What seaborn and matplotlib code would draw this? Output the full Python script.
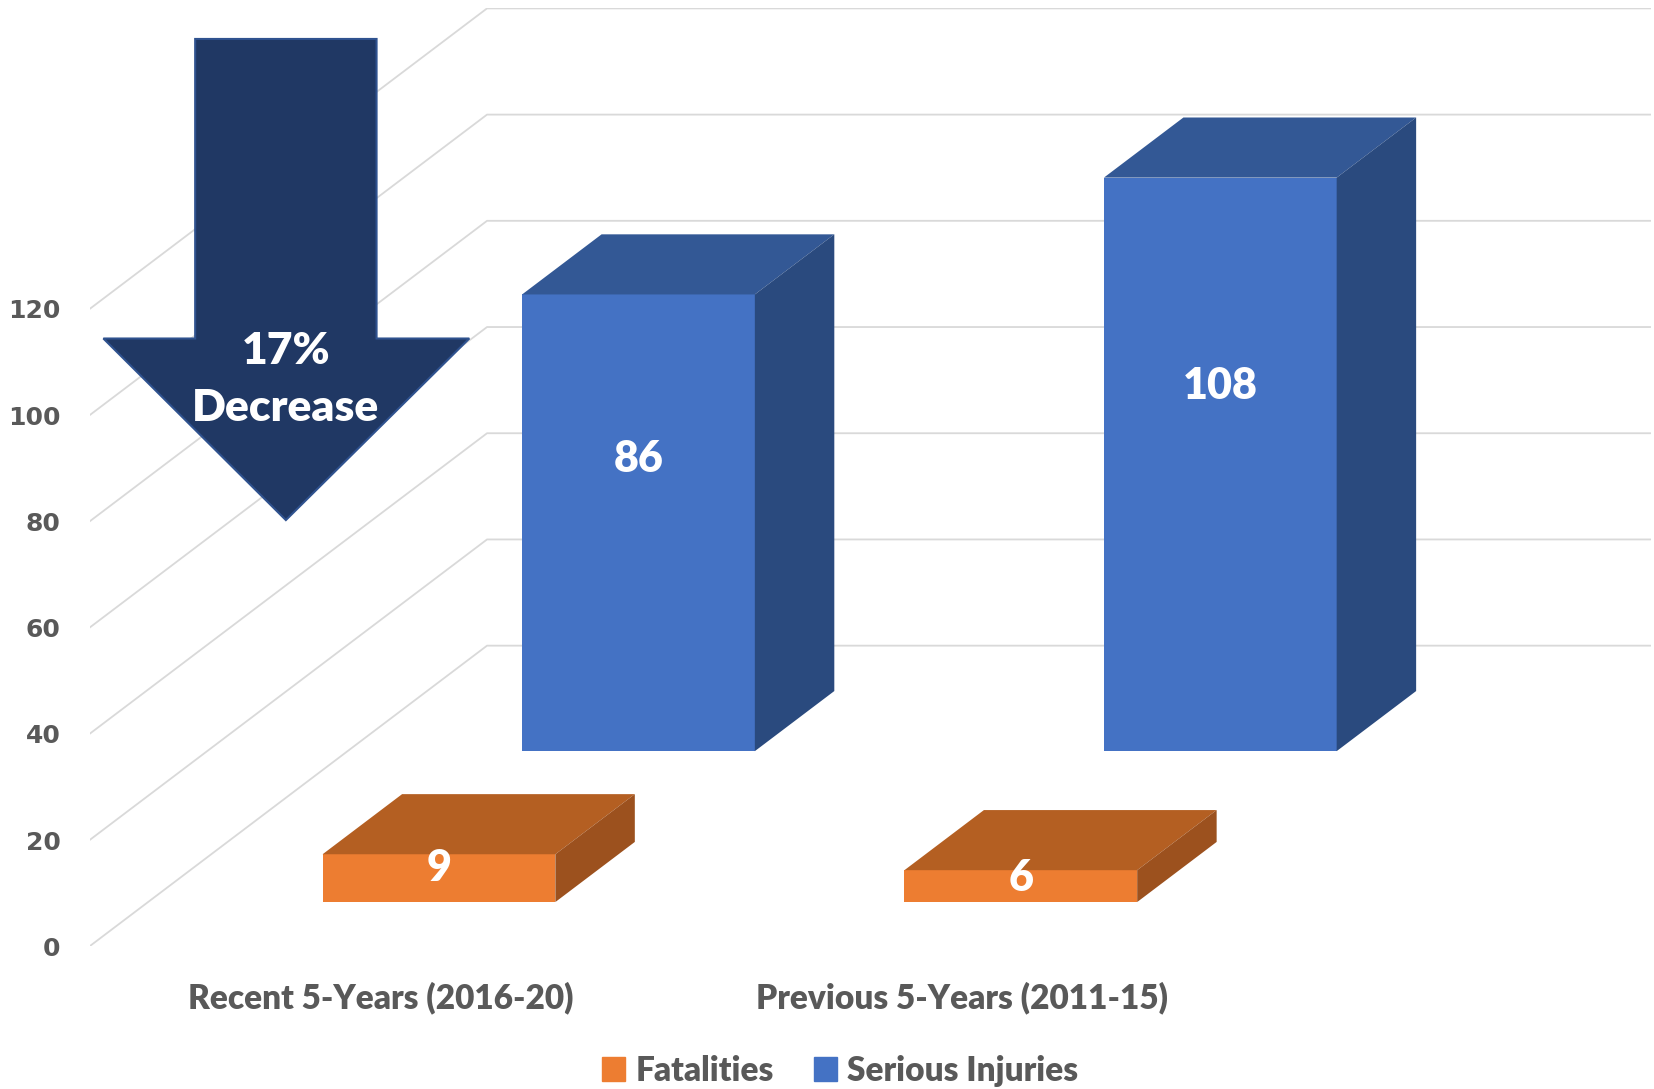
import matplotlib
matplotlib.use("Agg")
import matplotlib.pyplot as plt
from matplotlib.patches import Polygon, Patch
import pandas as pd
import seaborn as sns

# Data
periods = ["Recent 5-Years (2016-20)", "Previous 5-Years (2011-15)"]
fatalities = [9, 6]
serious_injuries = [86, 108]
y_ticks = [0, 20, 40, 60, 80, 100, 120]
arrow_lines = ["17%", "Decrease"]

# Fake 3D: oblique projection of the depth axis, in data units
DEPTH_X = 0.683
DEPTH_Y = 56.6
BAR_WIDTH = 0.4
BAR_DEPTH = 0.2
row_depth = {"Serious Injuries": 0.649, "Fatalities": 0.147}
front_colors = {"Serious Injuries": "#4472C4", "Fatalities": "#ED7D31"}
top_colors = {"Serious Injuries": "#335895", "Fatalities": "#B45F22"}
side_colors = {"Serious Injuries": "#2A4A7E", "Fatalities": "#9C511E"}
TEXT_GRAY = "#595959"
WEIGHT = "heavy"


def main():
    sns.set_theme(style="white")
    plt.rcParams["font.family"] = ["Lato", "DejaVu Sans"]

    fig = plt.figure(figsize=(16.54, 10.89), dpi=100)
    ax = fig.add_axes([0.0542, 0.1311, 0.9438, 0.8612])

    df = pd.DataFrame({"period": periods,
                       "Fatalities": fatalities,
                       "Serious Injuries": serious_injuries})

    # Gridlines: side wall diagonal, then back wall horizontal
    x_left, x_right = -0.5, 1.5 + DEPTH_X
    for v in y_ticks:
        ax.plot([x_left, x_left + DEPTH_X, x_right],
                [v, v + DEPTH_Y, v + DEPTH_Y],
                color="#D9D9D9", lw=1.3, zorder=0)

    # Back row first, then front row
    for name in ["Serious Injuries", "Fatalities"]:
        depth = row_depth[name]
        n_before = len(ax.patches)
        sns.barplot(data=df, x="period", y=name, color=front_colors[name],
                    width=BAR_WIDTH, saturation=1, errorbar=None,
                    linewidth=0, ax=ax)
        dx, dy = BAR_DEPTH * DEPTH_X, BAR_DEPTH * DEPTH_Y
        for bar, val in zip(ax.patches[n_before:], df[name]):
            bar.set_x(bar.get_x() + depth * DEPTH_X)
            bar.set_y(bar.get_y() + depth * DEPTH_Y)
            x0, w = bar.get_x(), bar.get_width()
            y0, h = bar.get_y(), bar.get_height()
            y1 = y0 + h
            top = [(x0, y1), (x0 + w, y1), (x0 + w + dx, y1 + dy), (x0 + dx, y1 + dy)]
            side = [(x0 + w, y0), (x0 + w, y1), (x0 + w + dx, y1 + dy), (x0 + w + dx, y0 + dy)]
            ax.add_patch(Polygon(top, closed=True, facecolor=top_colors[name],
                                 edgecolor="none", zorder=2))
            ax.add_patch(Polygon(side, closed=True, facecolor=side_colors[name],
                                 edgecolor="none", zorder=2))
            ax.text(x0 + w / 2, y0 + 0.63 * h + 0.8, str(val), ha="center",
                    va="center", color="white", fontsize=31, fontweight=WEIGHT,
                    zorder=3)

    ax.set_xlim(x_left, x_right)
    ax.set_ylim(0, 120 + DEPTH_Y)
    ax.set_yticks(y_ticks)
    ax.set_xlabel("")
    ax.set_ylabel("")
    for s in ax.spines.values():
        s.set_visible(False)
    ax.tick_params(axis="x", length=0, pad=25.5, labelsize=24, labelcolor=TEXT_GRAY)
    ax.tick_params(axis="y", length=0, pad=21, labelsize=18, labelcolor=TEXT_GRAY)
    for lbl in ax.get_xticklabels():
        lbl.set_fontweight(WEIGHT)
    for lbl in ax.get_yticklabels():
        lbl.set_fontfamily("DejaVu Sans")
        lbl.set_fontweight("bold")

    # Down arrow callout
    arrow = [(0.0676, 0.9674), (0.1838, 0.9674), (0.1838, 0.648), (0.2432, 0.648),
             (0.1257, 0.4544), (0.0088, 0.648), (0.0676, 0.648)]
    ax.add_patch(Polygon(arrow, closed=True, transform=ax.transAxes,
                         facecolor="#203864", edgecolor="#2F528F", lw=1.5, zorder=5))
    for txt, ypos in zip(arrow_lines, [0.635, 0.574]):
        ax.text(0.1257, ypos, txt, transform=ax.transAxes, ha="center", va="center",
                color="white", fontsize=32, fontweight=WEIGHT, zorder=6)

    # Legend
    handles = [Patch(color=front_colors["Fatalities"]),
               Patch(color=front_colors["Serious Injuries"])]
    fig.legend(handles, ["Fatalities", "Serious Injuries"], loc="center",
               bbox_to_anchor=(0.508, 0.0168), ncol=2, frameon=False,
               prop=dict(family="Lato", weight=WEIGHT, size=24),
               handlelength=0.7, handleheight=0.7, handletextpad=0.3,
               columnspacing=1.2, labelcolor=TEXT_GRAY)

    fig.savefig("out.png", dpi=100)


if __name__ == "__main__":
    main()
